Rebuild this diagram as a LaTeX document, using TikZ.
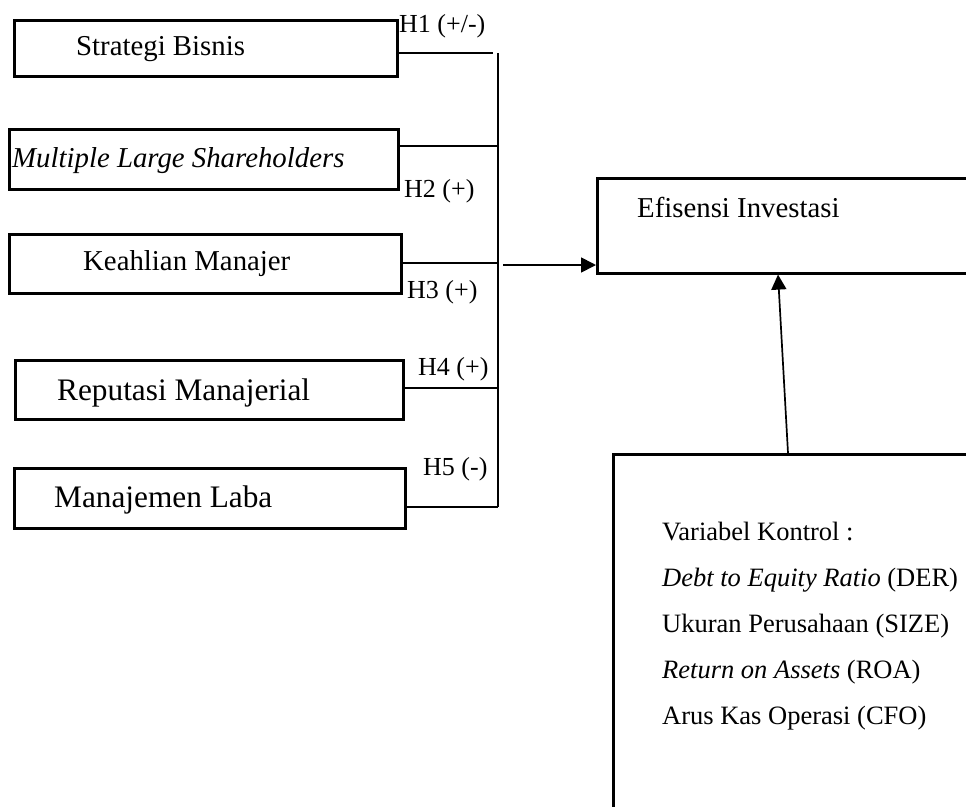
\documentclass[tikz,border=0pt]{standalone}
\usepackage{fontspec}
\setmainfont{Liberation Serif}
\usetikzlibrary{arrows.meta,calc}

\begin{document}
\begin{tikzpicture}[x=1pt,y=-1pt,
  kotak/.style={draw,line width=2.6pt,inner sep=0pt,anchor=north west},
  teks/.style={inner sep=0pt,anchor=base west,font=\fontsize{28.8}{34}\selectfont},
  teksbesar/.style={teks,font=\fontsize{31.3}{37}\selectfont},
  hipo/.style={inner sep=0pt,anchor=base west,font=\fontsize{26}{31}\selectfont},
  ktrl/.style={inner sep=0pt,anchor=base west,font=\fontsize{26.5}{31}\selectfont},
  garis/.style={line width=1.7pt},
  panah/.style={garis,-{Triangle[length=15pt,width=15pt]}}]

\clip (0,0) rectangle (966,806);

% Variabel independen
\node[kotak,minimum width=383pt,minimum height=56pt] (sb) at (13,19) {};
\node[kotak,minimum width=389pt,minimum height=60pt] (mls) at (8,128) {};
\node[kotak,minimum width=392pt,minimum height=59pt] (km) at (8,233) {};
\node[kotak,minimum width=388pt,minimum height=59pt] (rm) at (14,359) {};
\node[kotak,minimum width=391pt,minimum height=60pt] (ml) at (13,467) {};

\node[teks] (tsb) at (76,55) {Strategi Bisnis};
\node[teks] (tmls) at (12,167) {\itshape Multiple Large Shareholders};
\node[teks] (tkm) at (83,270) {Keahlian Manajer};
\node[teksbesar] (trm) at (57,400) {Reputasi Manajerial};
\node[teksbesar] (tml) at (54,507) {Manajemen Laba};

% Variabel dependen dan kontrol
\node[kotak,minimum width=420pt,minimum height=95pt] (efi) at (596,177) {};
\node[teks] (tefi) at (637,217) {Efisensi Investasi};

\node[kotak,minimum width=400pt,minimum height=420pt] (ktr) at (612,453) {};
\node[ktrl] (k1) at (662,540) {Variabel Kontrol :};
\node[ktrl] (k2) at (662,586) {\textit{Debt to Equity Ratio} (DER)};
\node[ktrl] (k3) at (662,632) {Ukuran Perusahaan (SIZE)};
\node[ktrl] (k4) at (662,678) {\textit{Return on Assets} (ROA)};
\node[ktrl] (k5) at (662,724) {Arus Kas Operasi (CFO)};

% Garis penghubung
\coordinate (atas) at (498,53);
\coordinate (j2) at (498,146);
\coordinate (j3) at (498,263);
\coordinate (j4) at (498,388);
\coordinate (bawah) at (498,507);
\coordinate (pangkal) at (503,265);

\draw[line width=2.3pt] (atas) -- (bawah);
\draw[garis,shorten >=5pt] (atas -| sb.east) -- (atas);
\draw[garis] (j2 -| mls.east) -- (j2);
\draw[garis] (j3 -| km.east) -- (j3);
\draw[garis] (j4 -| rm.east) -- (j4);
\draw[garis] (bawah -| ml.east) -- (bawah);
\draw[panah] (pangkal) -- (pangkal -| efi.west);
\draw[panah] ($(ktr.north west)+(176,0)$) -- ($(efi.south west)+(182,0)$);

\node[hipo] (h1) at (399,32) {H1 (+/-)};
\node[hipo] (h2) at (404,197) {H2 (+)};
\node[hipo] (h3) at (407,298) {H3 (+)};
\node[hipo] (h4) at (418,375) {H4 (+)};
\node[hipo] (h5) at (423,475) {H5 (-)};

\end{tikzpicture}
\end{document}
